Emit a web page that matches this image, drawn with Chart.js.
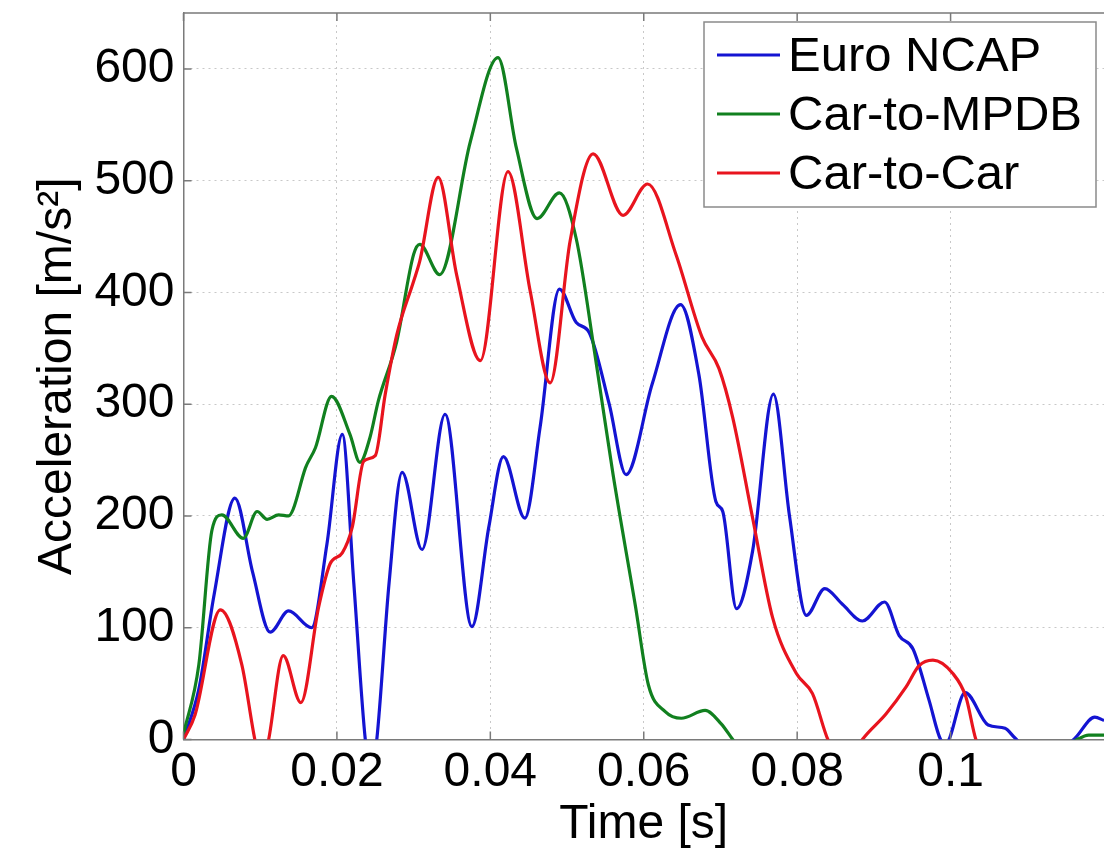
<!DOCTYPE html>
<html>
<head>
<meta charset="utf-8">
<script src="https://cdn.jsdelivr.net/npm/chart.js@4.4.1/dist/chart.umd.min.js"></script>
<style>
  body { margin: 0; background: #fff; }
  #wrap { width: 1104px; height: 848px; }
</style>
</head>
<body>
<div id="wrap"><canvas id="accel" width="1104" height="848"></canvas></div>
<script>
// crash pulses: time [s] vs acceleration [m/s^2]
const seriesNames = ["Euro NCAP", "Car-to-MPDB", "Car-to-Car"];
const xTicks = [0, 0.02, 0.04, 0.06, 0.08, 0.1];
const yTicks = [0, 100, 200, 300, 400, 500, 600];

const euroT = [0, 0.002, 0.004, 0.0067, 0.009, 0.0113, 0.0137, 0.0167, 0.0187, 0.0207,
  0.0222, 0.0237, 0.0245, 0.0252, 0.0268, 0.0285, 0.0311, 0.0341, 0.0376, 0.0398,
  0.0417, 0.0445, 0.0465, 0.0490, 0.0512, 0.0529, 0.0555, 0.0577, 0.0611, 0.0648,
  0.0672, 0.0694, 0.0703, 0.0721, 0.0742, 0.0769, 0.0790, 0.0812, 0.0836, 0.0859,
  0.0885, 0.0914, 0.0933, 0.0951, 0.0972, 0.0987, 0.0994, 0.1019, 0.1049, 0.1071,
  0.1083, 0.1120, 0.1162, 0.1188, 0.1200];
const euroA = [0, 45, 130, 216, 150, 96, 115, 100, 175, 273,
  140, 0, -30, 0, 140, 239, 170, 291, 101, 190,
  253, 198, 280, 403, 373, 364, 300, 237, 318, 389,
  326, 213, 204, 117, 169, 309, 200, 111, 135, 121,
  106, 123, 93, 81, 35, 0, -3, 42, 13, 10,
  2, -20, 1, 20, 17];

const mpdbT = [0, 0.002, 0.0037, 0.0050, 0.0078, 0.0096, 0.0109, 0.0124, 0.0137, 0.0143,
  0.0159, 0.0172, 0.0193, 0.0217, 0.0230, 0.0243, 0.0254, 0.0278, 0.0300, 0.0308,
  0.0334, 0.0374, 0.0410, 0.0434, 0.0461, 0.0490, 0.0512, 0.0536, 0.0560, 0.0589,
  0.0606, 0.0628, 0.0649, 0.0680, 0.0701, 0.0716, 0.0750, 0.0900, 0.1100, 0.1165,
  0.1180, 0.1200];
const mpdbA = [5, 67, 187, 201, 180, 204, 197, 201, 200, 206,
  243, 261, 307, 273, 248, 270, 303, 356, 434, 443,
  416, 535, 610, 529, 466, 489, 448, 346, 237, 120,
  49, 25, 19, 26, 14, 0, -30, -40, -30, 0,
  4, 4];

const c2cT = [0, 0.0015, 0.0048, 0.0076, 0.0093, 0.0102, 0.0111, 0.0130, 0.0153, 0.0176,
  0.0191, 0.0207, 0.0220, 0.0235, 0.0250, 0.0263, 0.0278, 0.0300, 0.0308, 0.0332,
  0.0356, 0.0387, 0.0423, 0.0452, 0.0478, 0.0504, 0.0534, 0.0573, 0.0605, 0.0642,
  0.0676, 0.0698, 0.0716, 0.0742, 0.0768, 0.0799, 0.0820, 0.0840, 0.0862, 0.0885,
  0.0916, 0.0942, 0.0959, 0.0977, 0.1003, 0.1020, 0.1033, 0.1070, 0.1200];
const c2cA = [0, 22, 116, 67, 0, -25, 0, 75, 33, 118,
  157, 167, 190, 249, 254, 309, 362, 410, 428, 503,
  416, 339, 508, 401, 319, 446, 524, 469, 497, 434,
  360, 332, 288, 198, 109, 59, 41, 0, -25, 0,
  23, 47, 66, 71, 59, 38, 0, -40, -60];

const colors = ["#1414d2", "#11801f", "#e8141e"];
const FONT = "'Liberation Sans', Arial, sans-serif";

function pts(ts, vs) {
  return ts.map((t, i) => ({ x: t, y: vs[i] }));
}

// top border, inward ticks and the boxed legend (matlab look)
const frame = {
  id: "frame",
  afterDatasetsDraw(chart) {
    const { ctx, chartArea: a, scales } = chart;
    ctx.save();
    ctx.strokeStyle = "#7a7a7a";
    ctx.lineWidth = 1.5;
    ctx.setLineDash([]);
    ctx.beginPath();
    ctx.moveTo(a.left, a.top);
    ctx.lineTo(a.right, a.top);
    xTicks.forEach(v => {
      const x = scales.x.getPixelForValue(v);
      ctx.moveTo(x, a.bottom); ctx.lineTo(x, a.bottom - 8);
      ctx.moveTo(x, a.top); ctx.lineTo(x, a.top + 8);
    });
    yTicks.forEach(v => {
      const y = scales.y.getPixelForValue(v);
      ctx.moveTo(a.left, y); ctx.lineTo(a.left + 8, y);
    });
    ctx.stroke();

    // legend
    const bw = 392, bh = 185;
    const bx = a.right - 8 - bw, by = a.top + 9;
    ctx.fillStyle = "#fff";
    ctx.fillRect(bx, by, bw, bh);
    ctx.strokeStyle = "#8a8a8a";
    ctx.strokeRect(bx, by, bw, bh);
    ctx.font = "49px " + FONT;
    ctx.textBaseline = "middle";
    chart.data.datasets.forEach((ds, i) => {
      const y = by + 33 + i * 59;
      ctx.strokeStyle = ds.borderColor;
      ctx.lineWidth = 3;
      ctx.beginPath();
      ctx.moveTo(bx + 13, y);
      ctx.lineTo(bx + 76, y);
      ctx.stroke();
      ctx.fillStyle = "#000";
      ctx.fillText(ds.label, bx + 84, y + 2);
    });
    ctx.restore();
  }
};

const ctx = document.getElementById("accel").getContext("2d");
const accelChart = new Chart(ctx, {
  type: "line",
  data: {
    datasets: [
      { label: seriesNames[0], data: pts(euroT, euroA), borderColor: colors[0], order: 2 },
      { label: seriesNames[1], data: pts(mpdbT, mpdbA), borderColor: colors[1], order: 1 },
      { label: seriesNames[2], data: pts(c2cT, c2cA), borderColor: colors[2], order: 0 },
    ],
  },
  options: {
    responsive: false,
    animation: false,
    layout: { padding: { top: 13, right: 0, left: 0, bottom: 0 } },
    elements: {
      point: { radius: 0 },
      line: { borderWidth: 3.2, cubicInterpolationMode: "monotone", fill: false },
    },
    plugins: { legend: { display: false }, tooltip: { enabled: false } },
    scales: {
      x: {
        type: "linear",
        min: 0,
        max: 0.12,
        afterFit: (s) => { s.height = 108.5; s.paddingLeft = 0; s.paddingRight = 0; },
        afterBuildTicks: (s) => { s.ticks = xTicks.map(v => ({ value: v })); },
        ticks: {
          autoSkip: false,
          maxRotation: 0,
          padding: 4,
          color: "#000",
          font: { family: FONT, size: 48 },
          callback: (v) => String(v),
        },
        grid: { color: "#c8c8c8", drawTicks: false },
        border: { color: "#7a7a7a", width: 1.5, dash: [2, 4] },
        title: {
          display: true,
          text: "Time [s]",
          color: "#000",
          font: { family: FONT, size: 48 },
          padding: { top: 0, bottom: -6 },
        },
      },
      y: {
        min: 0,
        max: 650,
        afterFit: (s) => { s.width = 183.5; s.paddingTop = 0; s.paddingBottom = 0; },
        afterBuildTicks: (s) => { s.ticks = yTicks.map(v => ({ value: v })); },
        ticks: {
          autoSkip: false,
          padding: 9,
          color: "#000",
          font: { family: FONT, size: 48 },
        },
        grid: { color: "#c8c8c8", drawTicks: false },
        border: { color: "#7a7a7a", width: 1.5, dash: [2, 4] },
        title: {
          display: true,
          text: "Acceleration [m/s²]",
          color: "#000",
          font: { family: FONT, size: 48 },
          padding: { top: 29, bottom: 0 },
        },
      },
    },
  },
  plugins: [frame],
});
</script>
</body>
</html>
